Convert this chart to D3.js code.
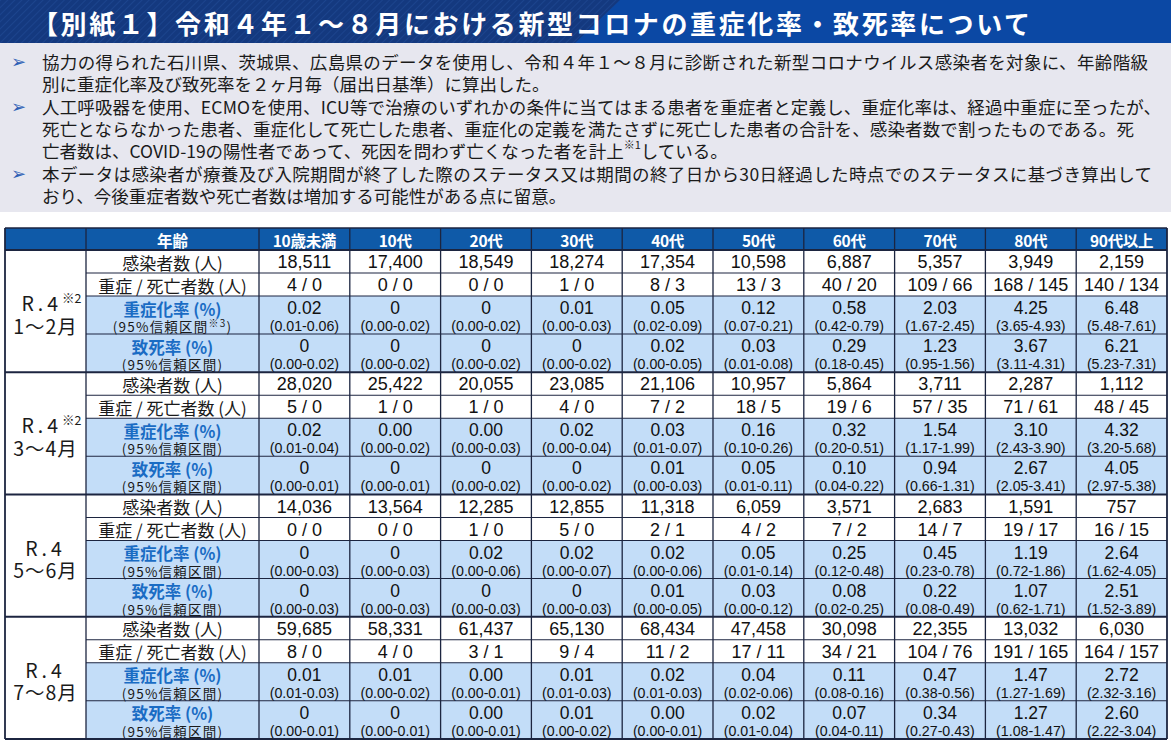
<!DOCTYPE html>
<html><head><meta charset="utf-8">
<script src="https://cdn.jsdelivr.net/npm/d3@7"></script>
<style>body{margin:0;background:#fff;overflow:hidden}svg{display:block}</style>
</head><body>
<script>
// ---------- data ----------
const titleText = "【別紙１】令和４年１～８月における新型コロナの重症化率・致死率について";
const bulletLines = [
  ["協力の得られた石川県、茨城県、広島県のデータを使用し、令和４年１～８月に診断された新型コロナウイルス感染者を対象に、年齢階級",
   "別に重症化率及び致死率を２ヶ月毎（届出日基準）に算出した。"],
  ["人工呼吸器を使用、ECMOを使用、ICU等で治療のいずれかの条件に当てはまる患者を重症者と定義し、重症化率は、経過中重症に至ったが、",
   "死亡とならなかった患者、重症化して死亡した患者、重症化の定義を満たさずに死亡した患者の合計を、感染者数で割ったものである。死",
   "亡者数は、COVID-19の陽性者であって、死因を問わず亡くなった者を計上|※1|している。"],
  ["本データは感染者が療養及び入院期間が終了した際のステータス又は期間の終了日から30日経過した時点でのステータスに基づき算出して",
   "おり、今後重症者数や死亡者数は増加する可能性がある点に留意。"]
];
const headerLabel = "年齢";
const ages = ["10歳未満","10代","20代","30代","40代","50代","60代","70代","80代","90代以上"];
const periodYear = ["R.4","R.4","R.4","R.4"];
const periodNote = ["※2","※2","",""];
const periodMonths = ["1～2月","3～4月","5～6月","7～8月"];
const rowLabels = ["感染者数 (人)","重症 / 死亡者数 (人)","重症化率 (%)","致死率 (%)"];
const ciLabelSevere = ["(95%信頼区間|※3|)","(95%信頼区間)","(95%信頼区間)","(95%信頼区間)"];
const ciLabelDeath = "(95%信頼区間)";

const cases = [
  [18511,17400,18549,18274,17354,10598,6887,5357,3949,2159],
  [28020,25422,20055,23085,21106,10957,5864,3711,2287,1112],
  [14036,13564,12285,12855,11318,6059,3571,2683,1591,757],
  [59685,58331,61437,65130,68434,47458,30098,22355,13032,6030]
];
const severeCounts = [
  [4,0,0,1,8,13,40,109,168,140],
  [5,1,1,4,7,18,19,57,71,48],
  [0,0,1,5,2,4,7,14,19,16],
  [8,4,3,9,11,17,34,104,191,164]
];
const deathCounts = [
  [0,0,0,0,3,3,20,66,145,134],
  [0,0,0,0,2,5,6,35,61,45],
  [0,0,0,0,1,2,2,7,17,15],
  [0,0,1,4,2,11,21,76,165,157]
];
const severeRate = [
  ["0.02","0","0","0.01","0.05","0.12","0.58","2.03","4.25","6.48"],
  ["0.02","0.00","0.00","0.02","0.03","0.16","0.32","1.54","3.10","4.32"],
  ["0","0","0.02","0.02","0.02","0.05","0.25","0.45","1.19","2.64"],
  ["0.01","0.01","0.00","0.01","0.02","0.04","0.11","0.47","1.47","2.72"]
];
const severeCI = [
  ["0.01-0.06","0.00-0.02","0.00-0.02","0.00-0.03","0.02-0.09","0.07-0.21","0.42-0.79","1.67-2.45","3.65-4.93","5.48-7.61"],
  ["0.01-0.04","0.00-0.02","0.00-0.03","0.00-0.04","0.01-0.07","0.10-0.26","0.20-0.51","1.17-1.99","2.43-3.90","3.20-5.68"],
  ["0.00-0.03","0.00-0.03","0.00-0.06","0.00-0.07","0.00-0.06","0.01-0.14","0.12-0.48","0.23-0.78","0.72-1.86","1.62-4.05"],
  ["0.01-0.03","0.00-0.02","0.00-0.01","0.01-0.03","0.01-0.03","0.02-0.06","0.08-0.16","0.38-0.56","1.27-1.69","2.32-3.16"]
];
const deathRate = [
  ["0","0","0","0","0.02","0.03","0.29","1.23","3.67","6.21"],
  ["0","0","0","0","0.01","0.05","0.10","0.94","2.67","4.05"],
  ["0","0","0","0","0.01","0.03","0.08","0.22","1.07","2.51"],
  ["0","0","0.00","0.01","0.00","0.02","0.07","0.34","1.27","2.60"]
];
const deathCI = [
  ["0.00-0.02","0.00-0.02","0.00-0.02","0.00-0.02","0.00-0.05","0.01-0.08","0.18-0.45","0.95-1.56","3.11-4.31","5.23-7.31"],
  ["0.00-0.01","0.00-0.01","0.00-0.02","0.00-0.02","0.00-0.03","0.01-0.11","0.04-0.22","0.66-1.31","2.05-3.41","2.97-5.38"],
  ["0.00-0.03","0.00-0.03","0.00-0.03","0.00-0.03","0.00-0.05","0.00-0.12","0.02-0.25","0.08-0.49","0.62-1.71","1.52-3.89"],
  ["0.00-0.01","0.00-0.01","0.00-0.01","0.00-0.02","0.00-0.01","0.01-0.04","0.04-0.11","0.27-0.43","1.08-1.47","2.22-3.04"]
];

// ---------- layout ----------
const W = 1171, H = 741;
const JP = "'Noto Sans CJK JP','Noto Sans',sans-serif";
const NUM = "'Liberation Sans',Arial,sans-serif";
const headerBlue = "#0f5aa8", lightBlue = "#c3ddf8", lineCol = "#1c2540", labelBlue = "#1a6cc4";

const svg = d3.select("body").append("svg").attr("width", W).attr("height", H);
const defs = svg.append("defs");
const pat = defs.append("pattern").attr("id","stripes").attr("width",5).attr("height",5)
  .attr("patternUnits","userSpaceOnUse").attr("patternTransform","rotate(45)");
pat.append("rect").attr("width",5).attr("height",5).attr("fill","#14397f");
pat.append("line").attr("x1",0).attr("y1",0).attr("x2",0).attr("y2",5).attr("stroke","#1e4791").attr("stroke-width",1.6);

// title bar
const titleH = 43;
svg.append("rect").attr("x",0).attr("y",0).attr("width",W).attr("height",titleH).attr("fill","#0b48a4");
svg.append("polygon").attr("points",`0,0 620,0 575,${titleH} 0,${titleH}`).attr("fill","url(#stripes)");
svg.append("text").attr("x",32).attr("y",titleH/2+1).attr("dominant-baseline","central")
  .attr("font-family",JP).attr("font-weight","bold").attr("font-size",26).attr("fill","#fff")
  .attr("textLength",998).attr("lengthAdjust","spacing").text(titleText);

// notes area
svg.append("rect").attr("x",0).attr("y",titleH).attr("width",W).attr("height",212-titleH).attr("fill","#e7e7ef");
const lineY = [[61,83],[106,128,150],[173,195]];
const fitLen = {"0-0":1106,"1-0":1119,"1-1":1092,"2-0":1110};
bulletLines.forEach((para,p)=>{
  svg.append("text").attr("x",11).attr("y",lineY[p][0]).attr("dominant-baseline","central")
    .attr("font-family","'DejaVu Sans',sans-serif").attr("font-size",18).attr("fill","#2f5fb5").text("➢");
  para.forEach((ln,l)=>{
    const t = svg.append("text").attr("x",42).attr("y",lineY[p][l]).attr("dominant-baseline","central")
      .attr("font-family",JP).attr("font-size",17.5).attr("fill","#1a1a1a");
    const key = p+"-"+l;
    if (fitLen[key]) t.attr("textLength",fitLen[key]).attr("lengthAdjust","spacing");
    const parts = ln.split("|");
    parts.forEach((s,k)=>{
      if (k===1) t.append("tspan").attr("font-size",11).attr("dy",-6).text(s);
      else t.append("tspan").attr("dy",k===2?6:0).text(s);
    });
  });
});

// table geometry
const tableLeft = 5, periodRight = 86, labelRight = 259, tableRight = 1167;
const headTop = 228, headBottom = 250, tableBottom = 739;
const x = d3.scaleBand().domain(ages).range([labelRight, tableRight]);
const yB = d3.scaleBand().domain(periodMonths).range([headBottom, tableBottom]);
const rowTop = [0,23,46,84], rowH = [23,23,38,38.25];
const fmt = d3.format(",");

// header
svg.append("rect").attr("x",tableLeft).attr("y",headTop).attr("width",tableRight-tableLeft).attr("height",headBottom-headTop).attr("fill",headerBlue);
svg.append("text").attr("x",(periodRight+labelRight)/2).attr("y",(headTop+headBottom)/2+1)
  .attr("text-anchor","middle").attr("dominant-baseline","central")
  .attr("font-family",JP).attr("font-weight","bold").attr("font-size",15.5).attr("fill","#fff").text(headerLabel);
svg.selectAll("text.age").data(ages).join("text").attr("class","age")
  .attr("x",d=>x(d)+x.bandwidth()/2).attr("y",(headTop+headBottom)/2+1)
  .attr("text-anchor","middle").attr("dominant-baseline","central")
  .attr("font-family","'Liberation Sans Narrow','Noto Sans CJK JP',sans-serif").attr("font-weight","bold")
  .attr("font-size",15.5).attr("fill","#fff").attr("letter-spacing",-0.3).text(d=>d);

// blocks
periodMonths.forEach((pm,b)=>{
  const y0 = yB(pm);
  const g = svg.append("g");
  g.append("rect").attr("x",tableLeft).attr("y",y0).attr("width",periodRight-tableLeft).attr("height",yB.bandwidth()).attr("fill","#fff");
  rowTop.forEach((rt,r)=>{
    const fill = r<2 ? "#fff" : lightBlue;
    g.append("rect").attr("x",periodRight).attr("y",y0+rt).attr("width",tableRight-periodRight).attr("height",rowH[r]).attr("fill",fill);
  });
  // period label
  const cx = (tableLeft+periodRight)/2, cy = y0 + yB.bandwidth()/2 + 2.5;
  const t1 = g.append("text").attr("x",cx + (periodNote[b]?6:0)).attr("y",cy-11.5).attr("text-anchor","middle").attr("dominant-baseline","central")
    .attr("font-family",JP).attr("font-size",19.5).attr("fill","#1a1a1a");
  t1.append("tspan").attr("letter-spacing",4).text(periodYear[b]);
  if (periodNote[b]) t1.append("tspan").attr("font-size",12.5).attr("dy",-5).text(periodNote[b]);
  g.append("text").attr("x",cx).attr("y",cy+11.5).attr("text-anchor","middle").attr("dominant-baseline","central")
    .attr("font-family",JP).attr("font-size",19.5).attr("letter-spacing",1).attr("fill","#1a1a1a").text(periodMonths[b]);

  // row labels
  const lx = (periodRight+labelRight)/2;
  [0,1].forEach(r=>{
    g.append("text").attr("x",lx).attr("y",y0+rowTop[r]+rowH[r]/2+0.5).attr("text-anchor","middle").attr("dominant-baseline","central")
      .attr("font-family",JP).attr("font-size",17).attr("fill","#1a1a1a").text(rowLabels[r]);
  });
  [2,3].forEach(r=>{
    g.append("text").attr("x",lx).attr("y",y0+rowTop[r]+12.5).attr("text-anchor","middle").attr("dominant-baseline","central")
      .attr("font-family",JP).attr("font-weight","bold").attr("font-size",16.5).attr("fill",labelBlue).text(rowLabels[r]);
    const lab = r===2 ? ciLabelSevere[b] : ciLabelDeath;
    const ct = g.append("text").attr("x",lx).attr("y",y0+rowTop[r]+30).attr("text-anchor","middle").attr("dominant-baseline","central")
      .attr("font-family",JP).attr("font-size",13.5).attr("fill","#1a1a1a").attr("letter-spacing",1.2);
    lab.split("|").forEach((s,k)=>{
      if (k===1) ct.append("tspan").attr("font-size",10).attr("dy",-4).text(s);
      else ct.append("tspan").attr("dy",k===2?4:0).text(s);
    });
  });

  // data cells
  ages.forEach((a,i)=>{
    const ax = x(a)+x.bandwidth()/2;
    const vals = [fmt(cases[b][i]), `${severeCounts[b][i]} / ${deathCounts[b][i]}`];
    vals.forEach((v,r)=>{
      g.append("text").attr("x",ax).attr("y",y0+rowTop[r]+rowH[r]/2+0.5).attr("text-anchor","middle").attr("dominant-baseline","central")
        .attr("font-family",NUM).attr("font-size",18).attr("fill","#111").text(v);
    });
    [[severeRate,severeCI],[deathRate,deathCI]].forEach(([rv,ci],k)=>{
      const r = k+2;
      g.append("text").attr("x",ax).attr("y",y0+rowTop[r]+12).attr("text-anchor","middle").attr("dominant-baseline","central")
        .attr("font-family",NUM).attr("font-size",17.5).attr("fill","#111").text(rv[b][i]);
      g.append("text").attr("x",ax).attr("y",y0+rowTop[r]+30).attr("text-anchor","middle").attr("dominant-baseline","central")
        .attr("font-family",NUM).attr("font-size",14.2).attr("fill","#111").text(`(${ci[b][i]})`);
    });
  });

  // inner horizontal lines
  rowTop.slice(1).forEach(rt=>{
    g.append("line").attr("x1",periodRight).attr("x2",tableRight).attr("y1",y0+rt).attr("y2",y0+rt)
      .attr("stroke",lineCol).attr("stroke-width",1.2);
  });
});

// block separators & borders
const hLines = [headTop, headBottom].concat(periodMonths.map(p=>yB(p)+yB.bandwidth()));
svg.selectAll("line.h").data(hLines).join("line").attr("class","h")
  .attr("x1",tableLeft).attr("x2",tableRight).attr("y1",d=>d).attr("y2",d=>d)
  .attr("stroke",lineCol).attr("stroke-width",d=>d===headTop?1.5:1.8);
const vLines = [tableLeft, periodRight, labelRight].concat(ages.slice(1).map(a=>x(a)), [tableRight]);
svg.selectAll("line.v").data(vLines).join("line").attr("class","v")
  .attr("x1",d=>d).attr("x2",d=>d).attr("y1",headTop).attr("y2",tableBottom)
  .attr("stroke",lineCol).attr("stroke-width",d=>(d===tableLeft||d===tableRight)?1.8:1.3);
</script>
</body></html>
